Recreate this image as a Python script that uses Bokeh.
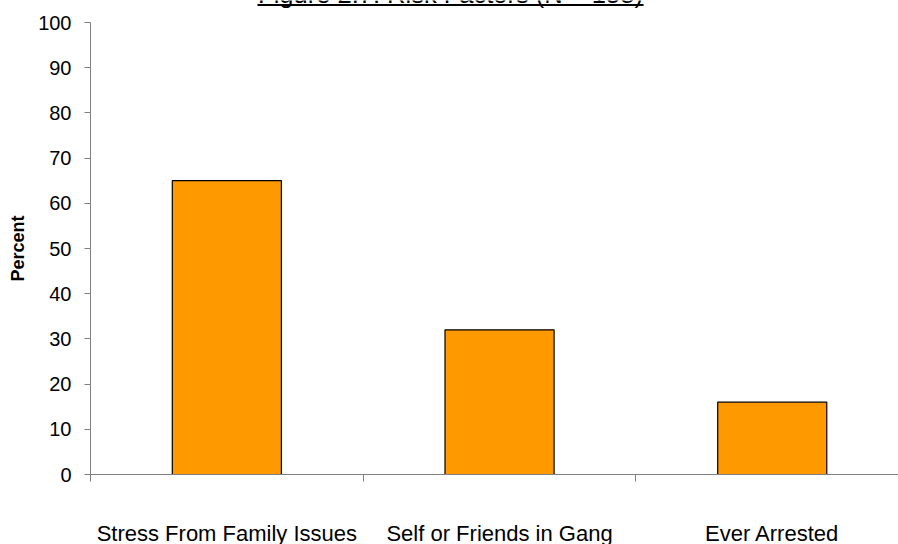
from bokeh.plotting import figure
from bokeh.models import FixedTicker, Range1d, Label, BoxAnnotation
from bokeh.embed import file_html
from bokeh.resources import INLINE

categories = ["Stress From Family Issues", "Self or Friends in Gang", "Ever Arrested"]
percents = [65, 32, 16]
y_ticks = [0, 10, 20, 30, 40, 50, 60, 70, 80, 90, 100]
title_text = "Figure 2.7: Risk Factors (N = 158)"

FONT = "Liberation Sans"
AXIS_GRAY = "#808080"

W, H = 898, 544
LEFT, TOP, BOTTOM = 90, 22, 474          # canvas pixels of the value axis
PX_PER_CAT = (W - LEFT) / 2.963
PX_PER_PCT = (BOTTOM - TOP) / 100


def cx(px):
    """canvas x pixel -> category-axis units"""
    return (px - LEFT) / PX_PER_CAT


def cy(px):
    """canvas y pixel (from top) -> percent units"""
    return 100 + (TOP - px) / PX_PER_PCT


centers = [i + 0.5 for i in range(len(categories))]

# the frame covers the whole canvas; axes sit at fixed data locations inside it
p = figure(width=W, height=H, output_backend="svg", toolbar_location=None,
           x_range=Range1d(cx(0), cx(W)), y_range=Range1d(cy(H), cy(0)),
           min_border=0)
p.outline_line_color = None
p.background_fill_color = "white"
p.border_fill_color = "white"
p.grid.visible = False

p.vbar(x=centers, top=percents, width=0.4, fill_color="#FF9900",
       line_color="black", line_width=1.2)

# category axis: names under bars, tick marks at category boundaries
xa = p.xaxis[0]
xa.fixed_location = 0
xa.bounds = (0, 3)
xa.ticker = FixedTicker(ticks=centers, minor_ticks=[0, 1, 2, 3])
xa.major_label_overrides = {c: name for c, name in zip(centers, categories)}
xa.major_tick_out = 0
xa.major_tick_in = 0
xa.minor_tick_out = 7
xa.minor_tick_in = 0
xa.minor_tick_line_color = AXIS_GRAY
xa.axis_line_color = AXIS_GRAY
xa.major_label_standoff = 39
xa.major_label_text_font = FONT
xa.major_label_text_font_size = "22px"
xa.major_label_text_color = "black"

# value axis
ya = p.yaxis[0]
ya.fixed_location = 0
ya.bounds = (0, 100)
ya.ticker = FixedTicker(ticks=y_ticks)
ya.minor_tick_line_color = None
ya.major_tick_out = 6
ya.major_tick_in = 0
ya.major_tick_line_color = AXIS_GRAY
ya.axis_line_color = AXIS_GRAY
ya.major_label_standoff = 13
ya.major_label_text_font = FONT
ya.major_label_text_font_size = "20px"
ya.major_label_text_color = "black"
ya.axis_label = "Percent"
ya.axis_label_text_font = FONT
ya.axis_label_text_font_style = "bold"
ya.axis_label_text_font_size = "18px"
ya.axis_label_text_color = "black"
ya.axis_label_standoff = 7

# underlined title at the very top edge
p.add_layout(Label(x=cx(450), y=cy(-7),
                   text=title_text, text_align="center", text_baseline="alphabetic",
                   text_font=FONT, text_font_size="25.5px", text_color="black"))
p.add_layout(BoxAnnotation(left=cx(257), right=cx(643), top=cy(3.5), bottom=cy(5.5),
                           fill_color="black", fill_alpha=1, line_color=None))

open("out.html", "w").write(file_html(p, INLINE))
